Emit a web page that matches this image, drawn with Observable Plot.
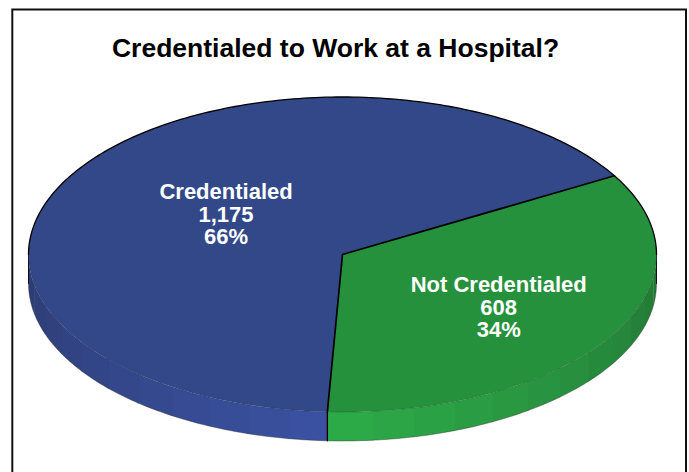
<!DOCTYPE html>
<html>
<head>
<meta charset="utf-8">
<script src="https://cdn.jsdelivr.net/npm/d3@7"></script>
<script src="https://cdn.jsdelivr.net/npm/@observablehq/plot@0.6"></script>
<style>
  html, body { margin: 0; padding: 0; background: #fff; }
  svg { display: block; }
</style>
</head>
<body>
<div id="chart"></div>
<script>
// Survey counts, one entry per slice.
const categories = ["Not Credentialed", "Credentialed"];
const counts = [608, 1175];
const topColors = ["#26913d", "#324889"];
const wallLight = ["#2cab48", "#3b52a3"];
const wallDark = ["#237635", "#2c3b72"];
const chartTitle = "Credentialed to Work at a Hospital?";

// Pie layout: angles run clockwise from twelve o'clock, in degrees.
const startAngle = 60;
const facetStep = 7.67;   // the rim is shaded in flat facets of this width
const wallDepth = 0.184;  // thickness of the disc, in units of the minor radius
const labelPlace = [[0.6, 124], [0.45, 304.5]]; // radius and angle of each label

const total = d3.sum(counts);
const rad = (a) => (a * Math.PI) / 180;
const px = (a, r = 1) => r * Math.sin(rad(a));
const py = (a, r = 1) => r * Math.cos(rad(a));
const arc = (a0, a1) => {
  const n = Math.max(2, Math.ceil(Math.abs(a1 - a0)));
  return d3.range(n + 1).map((i) => a0 + ((a1 - a0) * i) / n);
};

// Slices derived from the counts.
let cursor = startAngle;
const slices = categories.map((name, i) => {
  const a0 = cursor;
  const a1 = a0 + (counts[i] / total) * 360;
  cursor = a1;
  return { name, i, a0, a1, count: counts[i] };
});

// Top face of each slice, as a closed outline through the centre.
const faces = slices.flatMap((s) => [
  { s: s.i, x: 0, y: 0 },
  ...arc(s.a0, s.a1).map((a) => ({ s: s.i, x: px(a), y: py(a) })),
  { s: s.i, x: 0, y: 0 }
]);

// Front rim: flat facets between 90° and 270°, lightest near the bottom.
// Each facet overlaps the next slightly so no seam shows between them.
const walls = [];
slices.forEach((s) => {
  const lo = Math.max(s.a0, 90), hi = Math.min(s.a1, 270);
  let k = Math.floor((lo - 90) / facetStep);
  for (let a = lo; a < hi; k++) {
    const b = Math.min(90 + (k + 1) * facetStep, hi);
    const mid = (a + b) / 2;
    const t = Math.min(1, Math.abs(mid - 180) / 90);
    const fill = d3.interpolateRgb(wallLight[s.i], wallDark[s.i])(t);
    const key = `${s.i}-${String(k).padStart(3, "0")}`;
    const top = arc(a, Math.min(b + 0.4, hi));
    top.forEach((v) => walls.push({ key, fill, x: px(v), y: py(v) }));
    top.slice().reverse().forEach((v) => walls.push({ key, fill, x: px(v), y: py(v) - wallDepth }));
    a = b;
  }
});

const backRim = arc(-90, 90).map((a) => ({ x: px(a), y: py(a) }));
const frontRim = arc(90, 270).map((a) => ({ x: px(a), y: py(a) }));
const lowerRim = frontRim.map((d) => ({ x: d.x, y: d.y - wallDepth }));
const sideLeft = [{ x: -1, y: 0 }, { x: -1, y: -wallDepth }];
const sideRight = [{ x: 1, y: 0 }, { x: 1, y: -wallDepth }];
const cut = slices[1];
const spokes = slices.flatMap((s) => [
  { s: s.i, x: 0, y: 0 },
  { s: s.i, x: px(s.a0), y: py(s.a0) }
]);
const edge = [
  { x: px(cut.a0), y: py(cut.a0) },
  { x: px(cut.a0), y: py(cut.a0) - wallDepth }
];

const labels = slices.map((s, i) => ({
  x: px(labelPlace[i][1], labelPlace[i][0]),
  y: py(labelPlace[i][1], labelPlace[i][0]),
  text: `${s.name}\n${d3.format(",")(s.count)}\n${d3.format(".0%")(s.count / total)}`
}));

const chart = Plot.plot({
  width: 689,
  height: 472,
  margin: 0,
  style: { background: "#fff", fontFamily: "'Liberation Sans', Arial, sans-serif" },
  x: { axis: null, domain: [-342 / 314, 347 / 314], range: [0, 689] },
  y: { axis: null, domain: [254 / 157.5, -218 / 157.5], range: [0, 472] },
  color: { type: "identity" },
  marks: [
    Plot.frame({ stroke: "#111", strokeWidth: 2, insetLeft: 11.8, insetTop: 9, insetRight: 3.5, insetBottom: -10 }),
    Plot.line(walls, { x: "x", y: "y", z: "key", fill: "fill", stroke: "none" }),
    Plot.line(lowerRim, { x: "x", y: "y", stroke: "#333", strokeWidth: 0.6, strokeOpacity: 0.7 }),
    Plot.line(sideLeft, { x: "x", y: "y", stroke: "#111", strokeWidth: 1 }),
    Plot.line(sideRight, { x: "x", y: "y", stroke: "#111", strokeWidth: 1 }),
    Plot.line(faces, { x: "x", y: "y", z: "s", fill: (d) => topColors[d.s], stroke: "none" }),
    Plot.line(frontRim, { x: "x", y: "y", stroke: "#111", strokeWidth: 0.4, strokeOpacity: 0.5 }),
    Plot.line(backRim, { x: "x", y: "y", stroke: "#000", strokeWidth: 1.3 }),
    Plot.line(spokes, { x: "x", y: "y", z: "s", stroke: "#000", strokeWidth: 1.7 }),
    Plot.line(edge, { x: "x", y: "y", stroke: "#000", strokeWidth: 1.3 }),
    Plot.text(labels, {
      x: "x", y: "y", text: "text", fill: "#fff",
      fontSize: 22, fontWeight: "bold", lineHeight: 1.03, textAnchor: "middle"
    }),
    Plot.text([chartTitle], {
      frameAnchor: "top", dx: -9.5, dy: 37.5, fill: "#000",
      fontSize: 26.5, fontWeight: "bold"
    })
  ]
});

document.getElementById("chart").append(chart);
</script>
</body>
</html>
